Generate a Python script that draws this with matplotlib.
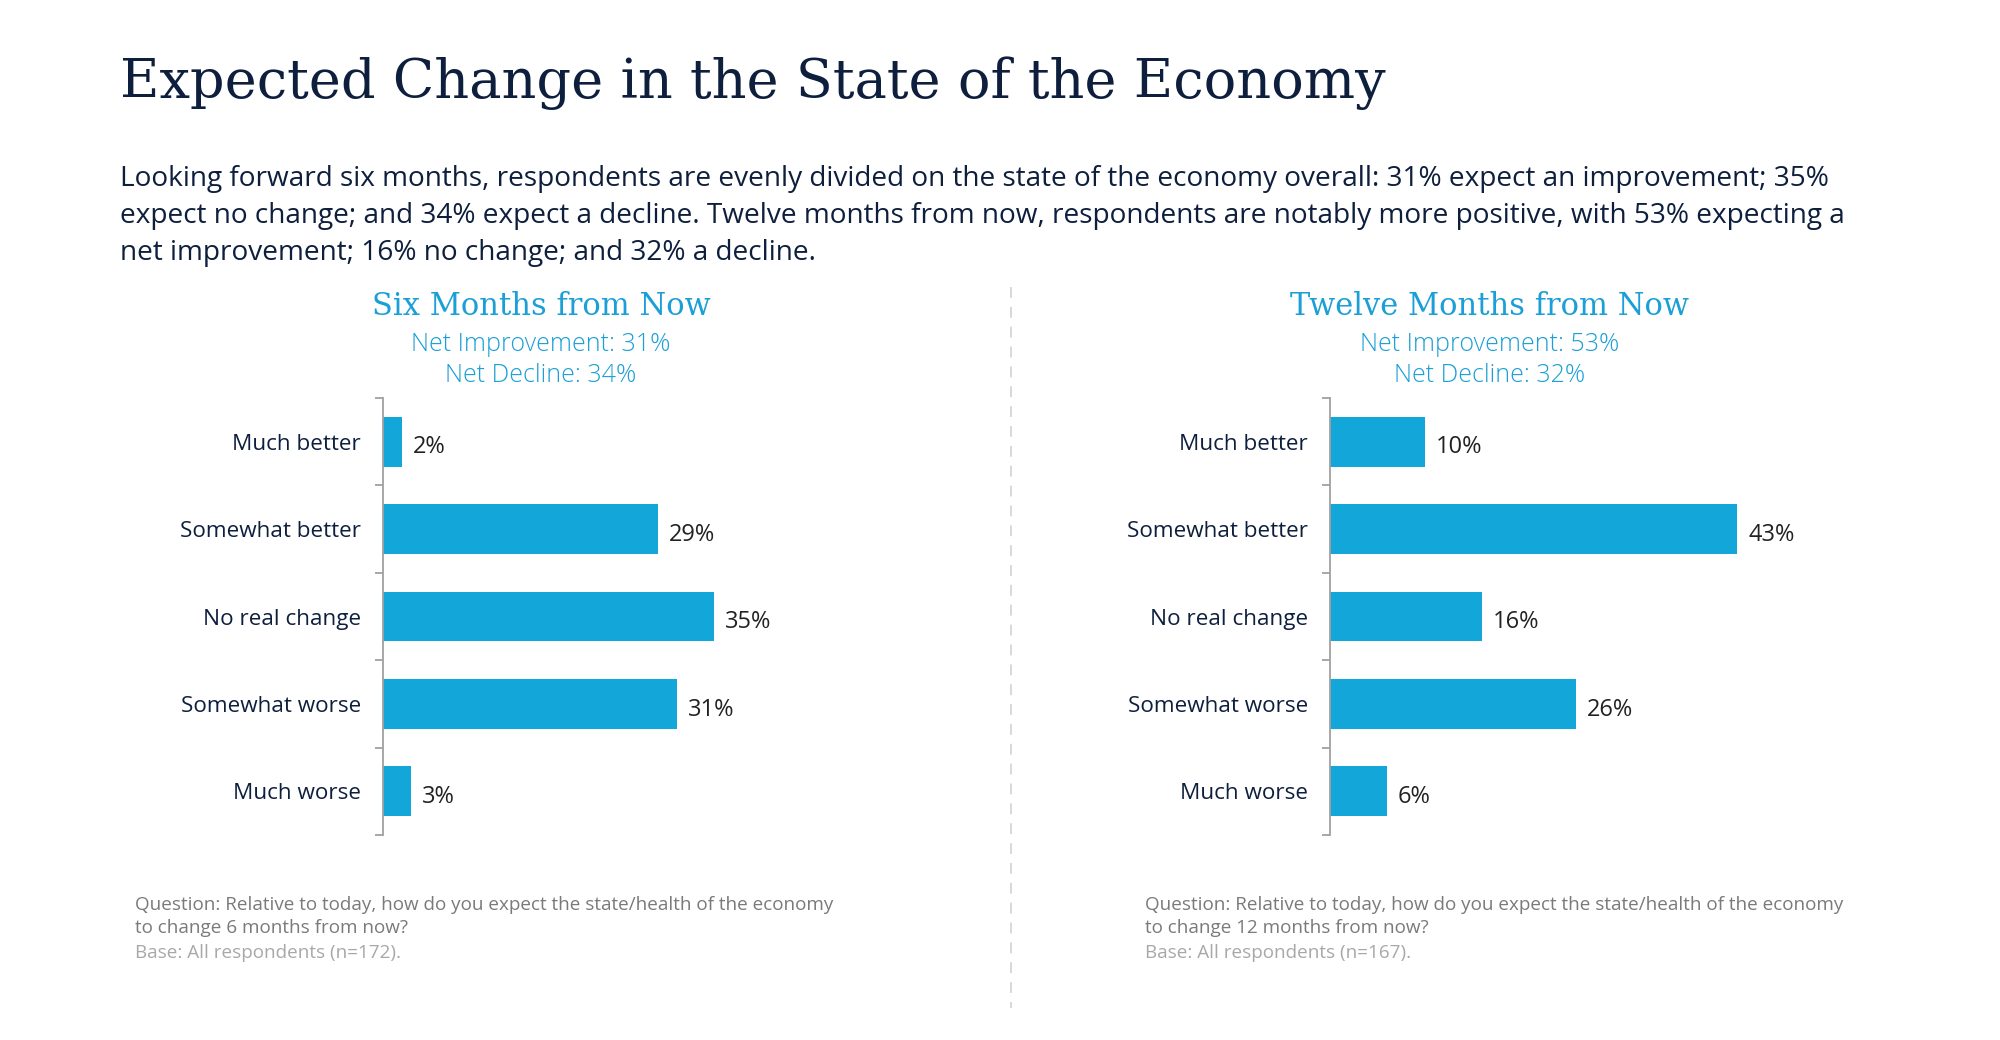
import matplotlib.pyplot as plt
import numpy as np

categories = ["Much better", "Somewhat better", "No real change", "Somewhat worse", "Much worse"]
six_months = [2, 29, 35, 31, 3]
twelve_months = [10, 43, 16, 26, 6]

panel_titles = ["Six Months from Now", "Twelve Months from Now"]
net_lines = [["Net Improvement: 31%", "Net Decline: 34%"],
             ["Net Improvement: 53%", "Net Decline: 32%"]]
questions = [
    "Question: Relative to today, how do you expect the state/health of the economy\nto change 6 months from now?",
    "Question: Relative to today, how do you expect the state/health of the economy\nto change 12 months from now?",
]
bases = ["Base: All respondents (n=172).", "Base: All respondents (n=167)."]

title = "Expected Change in the State of the Economy"
subtitle = ("Looking forward six months, respondents are evenly divided on the state of the economy overall: 31% expect an improvement; 35%\n"
            "expect no change; and 34% expect a decline. Twelve months from now, respondents are notably more positive, with 53% expecting a\n"
            "net improvement; 16% no change; and 32% a decline.")

NAVY = "#0e1f3e"
BLUE = "#12a6d9"
HEAD = "#1a9fd6"
W, H = 2000, 1040

plt.rcParams['font.family'] = ['Open Sans', 'DejaVu Sans']

fig = plt.figure(figsize=(20, 10.4), dpi=100)
fig.patch.set_facecolor("white")


def fx(px):
    return px / W


def fy(py):
    return 1 - py / H


fig.text(fx(120), fy(83), title, fontsize=39, color=NAVY, family="DejaVu Serif",
         va="center", ha="left")
fig.text(fx(120), fy(165), subtitle, fontsize=20.2, color=NAVY, va="top", ha="left",
         linespacing=1.43)

# dashed divider
fig.add_artist(plt.Line2D([fx(1011), fx(1011)], [fy(287), fy(1008)], transform=fig.transFigure,
                          color="#d5d5d5", linestyle=(0, (6, 5)), linewidth=1.3))

axis_left = [383, 1330]
head_x = [541, 1490]
foot_x = [135, 1145]
px_per_pct = 9.47
top, bottom = 398, 835

for i, vals in enumerate([six_months, twelve_months]):
    ax = fig.add_axes([fx(axis_left[i]), fy(bottom), fx(50 * px_per_pct), (bottom - top) / H])
    y = np.arange(len(categories))
    ax.barh(y, vals, height=0.57, color=BLUE)
    ax.set_xlim(0, 50)
    ax.set_ylim(len(categories) - 0.5, -0.5)
    ax.set_yticks(y)
    ax.set_yticklabels(categories, fontsize=16.2, color=NAVY)
    ax.set_yticks(np.arange(-0.5, len(categories)), minor=True)
    ax.tick_params(axis="y", which="major", length=0, pad=16)
    ax.tick_params(axis="y", which="minor", length=6, width=1.3, color="#a0a0a0")
    ax.set_xticks([])
    for s in ["top", "right", "bottom"]:
        ax.spines[s].set_visible(False)
    ax.spines["left"].set_color("#a0a0a0")
    ax.spines["left"].set_linewidth(1.3)
    for yy, v in zip(y, vals):
        ax.text(v + 1.15, yy + 0.03, f"{v}%", va="center_baseline", ha="left", fontsize=17,
                color="#222222")

    fig.text(fx(head_x[i]), fy(306), panel_titles[i], fontsize=22, color=HEAD,
             family="DejaVu Serif", ha="center", va="center")
    fig.text(fx(head_x[i]), fy(345), net_lines[i][0], fontsize=18, color=HEAD,
             ha="center", va="center", fontweight="light")
    fig.text(fx(head_x[i]), fy(376), net_lines[i][1], fontsize=18, color=HEAD,
             ha="center", va="center", fontweight="light")

    fig.text(fx(foot_x[i]), fy(896), questions[i], fontsize=13.6, color="#7a7a7a",
             ha="left", va="top", linespacing=1.35)
    fig.text(fx(foot_x[i]), fy(944), bases[i], fontsize=13.6, color="#a8a8a8",
             ha="left", va="top")

fig.savefig("out.png", dpi=100, facecolor="white")
